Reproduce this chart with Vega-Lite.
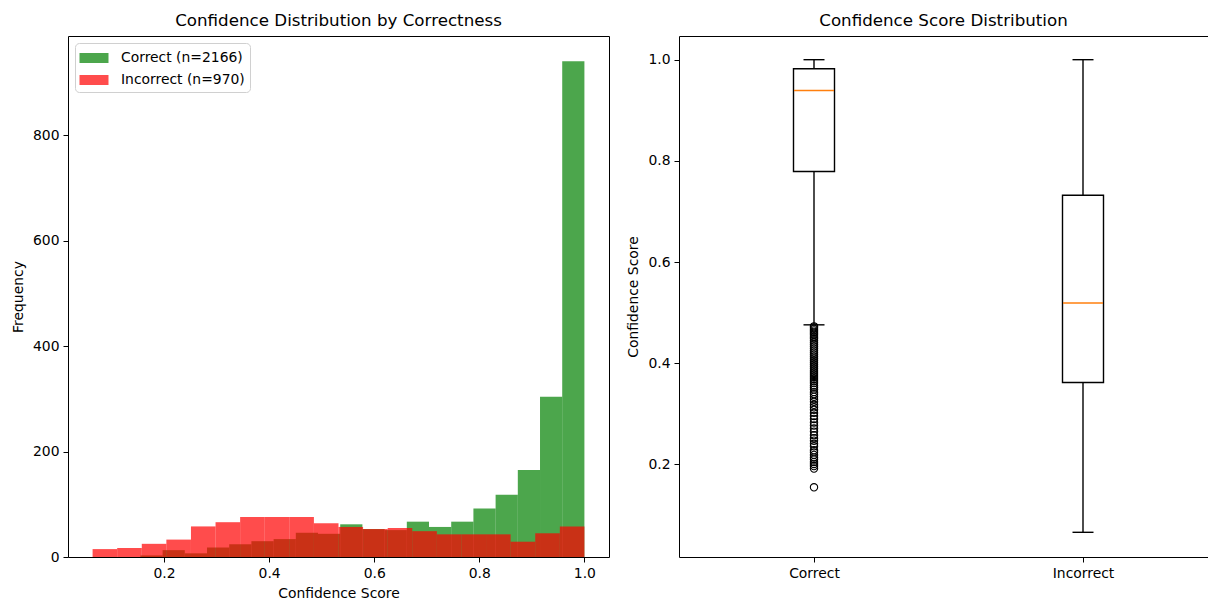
{
  "$schema": "https://vega.github.io/schema/vega-lite/v6.json",
  "background": "white",
  "padding": {"left": 10, "top": 12, "right": 0, "bottom": 0},
  "spacing": 16,
  "datasets": {
    "hist": [
      {"group": "Correct (n=2166)", "x0": 0.155, "x1": 0.19725, "count": 3},
      {"group": "Correct (n=2166)", "x0": 0.19725, "x1": 0.2395, "count": 13},
      {"group": "Correct (n=2166)", "x0": 0.2395, "x1": 0.28175, "count": 7},
      {"group": "Correct (n=2166)", "x0": 0.28175, "x1": 0.324, "count": 18},
      {"group": "Correct (n=2166)", "x0": 0.324, "x1": 0.36625, "count": 24},
      {"group": "Correct (n=2166)", "x0": 0.36625, "x1": 0.4085, "count": 30},
      {"group": "Correct (n=2166)", "x0": 0.4085, "x1": 0.45075, "count": 34},
      {"group": "Correct (n=2166)", "x0": 0.45075, "x1": 0.493, "count": 46},
      {"group": "Correct (n=2166)", "x0": 0.493, "x1": 0.53525, "count": 44},
      {"group": "Correct (n=2166)", "x0": 0.53525, "x1": 0.5775, "count": 62},
      {"group": "Correct (n=2166)", "x0": 0.5775, "x1": 0.61975, "count": 53},
      {"group": "Correct (n=2166)", "x0": 0.61975, "x1": 0.662, "count": 51},
      {"group": "Correct (n=2166)", "x0": 0.662, "x1": 0.70425, "count": 67},
      {"group": "Correct (n=2166)", "x0": 0.70425, "x1": 0.7465, "count": 57},
      {"group": "Correct (n=2166)", "x0": 0.7465, "x1": 0.78875, "count": 67},
      {"group": "Correct (n=2166)", "x0": 0.78875, "x1": 0.831, "count": 92},
      {"group": "Correct (n=2166)", "x0": 0.831, "x1": 0.87325, "count": 118},
      {"group": "Correct (n=2166)", "x0": 0.87325, "x1": 0.9155, "count": 165},
      {"group": "Correct (n=2166)", "x0": 0.9155, "x1": 0.95775, "count": 304},
      {"group": "Correct (n=2166)", "x0": 0.95775, "x1": 1.0, "count": 940},
      {"group": "Incorrect (n=970)", "x0": 0.064, "x1": 0.1108, "count": 15},
      {"group": "Incorrect (n=970)", "x0": 0.1108, "x1": 0.1576, "count": 17},
      {"group": "Incorrect (n=970)", "x0": 0.1576, "x1": 0.2044, "count": 25},
      {"group": "Incorrect (n=970)", "x0": 0.2044, "x1": 0.2512, "count": 33},
      {"group": "Incorrect (n=970)", "x0": 0.2512, "x1": 0.298, "count": 58},
      {"group": "Incorrect (n=970)", "x0": 0.298, "x1": 0.3448, "count": 66},
      {"group": "Incorrect (n=970)", "x0": 0.3448, "x1": 0.3916, "count": 76},
      {"group": "Incorrect (n=970)", "x0": 0.3916, "x1": 0.4384, "count": 76},
      {"group": "Incorrect (n=970)", "x0": 0.4384, "x1": 0.4852, "count": 76},
      {"group": "Incorrect (n=970)", "x0": 0.4852, "x1": 0.532, "count": 64},
      {"group": "Incorrect (n=970)", "x0": 0.532, "x1": 0.5788, "count": 57},
      {"group": "Incorrect (n=970)", "x0": 0.5788, "x1": 0.6256, "count": 53},
      {"group": "Incorrect (n=970)", "x0": 0.6256, "x1": 0.6724, "count": 55},
      {"group": "Incorrect (n=970)", "x0": 0.6724, "x1": 0.7192, "count": 49},
      {"group": "Incorrect (n=970)", "x0": 0.7192, "x1": 0.766, "count": 43},
      {"group": "Incorrect (n=970)", "x0": 0.766, "x1": 0.8128, "count": 43},
      {"group": "Incorrect (n=970)", "x0": 0.8128, "x1": 0.8596, "count": 43},
      {"group": "Incorrect (n=970)", "x0": 0.8596, "x1": 0.9064, "count": 29},
      {"group": "Incorrect (n=970)", "x0": 0.9064, "x1": 0.9532, "count": 45},
      {"group": "Incorrect (n=970)", "x0": 0.9532, "x1": 1.0, "count": 58}
    ],
    "box": [
      {"category": "Correct", "lo": 0.476, "q1": 0.779, "median": 0.939, "q3": 0.982, "hi": 1.0},
      {"category": "Incorrect", "lo": 0.066, "q1": 0.362, "median": 0.519, "q3": 0.732, "hi": 1.0}
    ],
    "outliers": [
      {"category": "Correct", "value": 0.155},
      {"category": "Correct", "value": 0.192},
      {"category": "Correct", "value": 0.197},
      {"category": "Correct", "value": 0.201},
      {"category": "Correct", "value": 0.205},
      {"category": "Correct", "value": 0.21},
      {"category": "Correct", "value": 0.214},
      {"category": "Correct", "value": 0.219},
      {"category": "Correct", "value": 0.224},
      {"category": "Correct", "value": 0.228},
      {"category": "Correct", "value": 0.236},
      {"category": "Correct", "value": 0.241},
      {"category": "Correct", "value": 0.247},
      {"category": "Correct", "value": 0.252},
      {"category": "Correct", "value": 0.258},
      {"category": "Correct", "value": 0.265},
      {"category": "Correct", "value": 0.271},
      {"category": "Correct", "value": 0.277},
      {"category": "Correct", "value": 0.283},
      {"category": "Correct", "value": 0.29},
      {"category": "Correct", "value": 0.296},
      {"category": "Correct", "value": 0.302},
      {"category": "Correct", "value": 0.308},
      {"category": "Correct", "value": 0.313},
      {"category": "Correct", "value": 0.318},
      {"category": "Correct", "value": 0.324},
      {"category": "Correct", "value": 0.329},
      {"category": "Correct", "value": 0.334},
      {"category": "Correct", "value": 0.339},
      {"category": "Correct", "value": 0.343},
      {"category": "Correct", "value": 0.348},
      {"category": "Correct", "value": 0.352},
      {"category": "Correct", "value": 0.356},
      {"category": "Correct", "value": 0.361},
      {"category": "Correct", "value": 0.365},
      {"category": "Correct", "value": 0.369},
      {"category": "Correct", "value": 0.373},
      {"category": "Correct", "value": 0.377},
      {"category": "Correct", "value": 0.381},
      {"category": "Correct", "value": 0.385},
      {"category": "Correct", "value": 0.389},
      {"category": "Correct", "value": 0.393},
      {"category": "Correct", "value": 0.397},
      {"category": "Correct", "value": 0.401},
      {"category": "Correct", "value": 0.405},
      {"category": "Correct", "value": 0.409},
      {"category": "Correct", "value": 0.413},
      {"category": "Correct", "value": 0.417},
      {"category": "Correct", "value": 0.421},
      {"category": "Correct", "value": 0.425},
      {"category": "Correct", "value": 0.429},
      {"category": "Correct", "value": 0.433},
      {"category": "Correct", "value": 0.437},
      {"category": "Correct", "value": 0.441},
      {"category": "Correct", "value": 0.445},
      {"category": "Correct", "value": 0.449},
      {"category": "Correct", "value": 0.452},
      {"category": "Correct", "value": 0.456},
      {"category": "Correct", "value": 0.459},
      {"category": "Correct", "value": 0.462},
      {"category": "Correct", "value": 0.465},
      {"category": "Correct", "value": 0.468},
      {"category": "Correct", "value": 0.471},
      {"category": "Correct", "value": 0.473}
    ]
  },
  "hconcat": [
    {
      "width": 541,
      "height": 521,
      "title": {"text": "Confidence Distribution by Correctness"},
      "data": {"name": "hist"},
      "mark": {"type": "bar", "opacity": 0.7, "binSpacing": 0, "clip": true},
      "encoding": {
        "x": {
          "field": "x0", "type": "quantitative",
          "scale": {"domain": [0.0172, 1.0468], "nice": false, "zero": false},
          "axis": {"values": [0.2, 0.4, 0.6, 0.8, 1.0], "format": ".1f", "title": "Confidence Score"}
        },
        "x2": {"field": "x1"},
        "y": {
          "field": "count", "type": "quantitative", "stack": null,
          "scale": {"domain": [0, 988], "nice": false},
          "axis": {"values": [0, 200, 400, 600, 800], "title": "Frequency"}
        },
        "y2": {"datum": 0},
        "color": {
          "field": "group", "type": "nominal",
          "scale": {"domain": ["Correct (n=2166)", "Incorrect (n=970)"], "range": ["green", "red"]},
          "legend": {
            "orient": "top-left", "title": null, "offset": 7, "padding": 5,
            "strokeColor": "#d0d0d0", "cornerRadius": 4, "fillColor": "white",
            "labelFontSize": 13.9, "labelColor": "black",
            "symbolType": "M-1.45,-0.5H1.45V0.5H-1.45Z", "symbolSize": 400,
            "symbolOpacity": 0.7, "symbolStrokeWidth": 0, "rowPadding": 5,
            "symbolOffset": 4, "labelOffset": 17
          }
        }
      }
    },
    {
      "width": 529,
      "height": 521,
      "title": {"text": "Confidence Score Distribution"},
      "layer": [
        {
          "data": {"name": "box"},
          "mark": {"type": "rule", "color": "black", "strokeWidth": 1.4},
          "encoding": {
            "x": {"field": "category", "type": "nominal"},
            "y": {"field": "lo", "type": "quantitative"},
            "y2": {"field": "hi"}
          }
        },
        {
          "data": {"name": "box"},
          "mark": {"type": "bar", "size": 41, "fill": "white", "stroke": "black", "strokeWidth": 1.4},
          "encoding": {
            "x": {"field": "category", "type": "nominal"},
            "y": {"field": "q1", "type": "quantitative"},
            "y2": {"field": "q3"}
          }
        },
        {
          "data": {"name": "box"},
          "mark": {"type": "tick", "size": 21, "thickness": 1.4, "color": "black", "opacity": 1},
          "encoding": {
            "x": {"field": "category", "type": "nominal"},
            "y": {"field": "lo", "type": "quantitative"}
          }
        },
        {
          "data": {"name": "box"},
          "mark": {"type": "tick", "size": 21, "thickness": 1.4, "color": "black", "opacity": 1},
          "encoding": {
            "x": {"field": "category", "type": "nominal"},
            "y": {"field": "hi", "type": "quantitative"}
          }
        },
        {
          "data": {"name": "box"},
          "mark": {"type": "tick", "size": 40, "thickness": 1.5, "color": "#ff7f0e", "opacity": 1},
          "encoding": {
            "x": {"field": "category", "type": "nominal"},
            "y": {"field": "median", "type": "quantitative"}
          }
        },
        {
          "data": {"name": "outliers"},
          "mark": {"type": "point", "shape": "circle", "filled": false, "stroke": "black", "strokeWidth": 1.1, "size": 54, "opacity": 1},
          "encoding": {
            "x": {"field": "category", "type": "nominal"},
            "y": {"field": "value", "type": "quantitative"}
          }
        }
      ],
      "encoding": {
        "x": {
          "field": "category", "type": "nominal",
          "scale": {"type": "point", "domain": ["Correct", "Incorrect"], "range": [135, 404], "padding": 0},
          "axis": {"title": null, "labelAngle": 0}
        },
        "y": {
          "type": "quantitative",
          "scale": {"domain": [0.0172, 1.0468], "nice": false, "zero": false},
          "axis": {"values": [0.2, 0.4, 0.6, 0.8, 1.0], "format": ".1f", "title": "Confidence Score"}
        }
      }
    }
  ],
  "config": {
    "font": "DejaVu Sans",
    "view": {"stroke": "black", "strokeWidth": 1},
    "axis": {
      "grid": false, "domain": false, "tickColor": "black", "tickSize": 5,
      "labelColor": "black", "titleColor": "black", "labelFontSize": 13.9,
      "titleFontSize": 13.9, "titleFontWeight": "normal", "titlePadding": 7, "labelPadding": 4
    },
    "title": {"fontSize": 16.7, "fontWeight": "normal", "color": "black", "anchor": "middle", "offset": 6}
  }
}
